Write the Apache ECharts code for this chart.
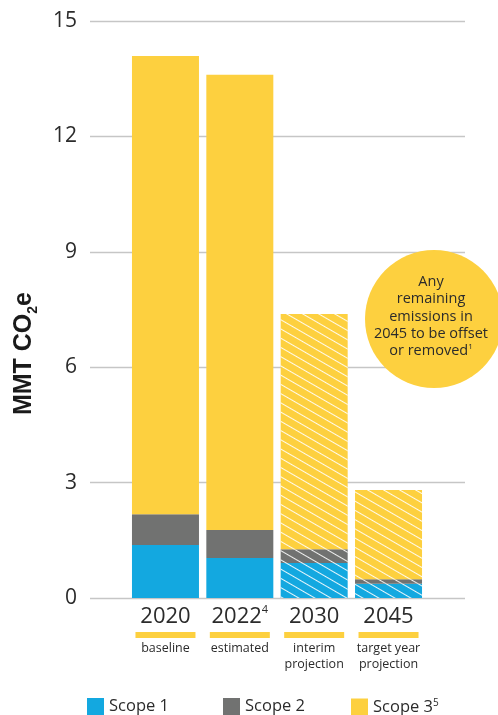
<!DOCTYPE html>
<html>
<head>
<meta charset="utf-8">
<style>
  html, body { margin: 0; padding: 0; background: #ffffff; }
  #chart { width: 498px; height: 715px; }
</style>
<script src="https://cdn.jsdelivr.net/npm/echarts@6/dist/echarts.min.js"></script>
</head>
<body>
<div id="chart"></div>
<script>
// Emissions by scope, million metric tons CO2e
const categories = ['2020', '2022', '2030', '2045'];
const yearNotes = ['', '4', '', ''];
const subLabels = [['baseline'], ['estimated'], ['interim', 'projection'], ['target year', 'projection']];
const projected = [false, false, true, true];

const scope1 = [1.38, 1.04, 0.91, 0.37];
const scope2 = [0.80, 0.73, 0.36, 0.12];
const scope3 = [11.91, 11.83, 6.11, 2.32];

const yMin = 0, yMax = 15, yStep = 3;

const seriesNames = ['Scope 1', 'Scope 2', 'Scope 3'];
const seriesNotes = ['', '', '5'];
const colors = ['#13A8E0', '#717271', '#FDD03F'];

const FONT = '"Open Sans", "Noto Sans", sans-serif';
const TEXT = '#2b2b2b';

const hatch = {
  symbol: 'rect',
  symbolSize: 1,
  dashArrayX: [1, 0],
  dashArrayY: [0.9, 6.6],
  rotation: Math.PI / 6,
  color: 'rgba(255,255,255,0.9)'
};

function barData(values) {
  return values.map((v, i) => projected[i]
    ? { value: v, itemStyle: { decal: hatch } }
    : v);
}

const chart = echarts.init(document.getElementById('chart'), null, { renderer: 'canvas' });

const option = {
  animation: false,
  backgroundColor: '#ffffff',
  textStyle: { fontFamily: FONT },
  color: colors,
  grid: [
    { left: 90, right: 33, top: 21, bottom: 117 },
    { left: 128.3, right: 72.3, top: 21, bottom: 117 }
  ],
  xAxis: [
    { type: 'category', gridIndex: 0, data: categories, show: false },
    {
      type: 'category', gridIndex: 1, data: categories,
      axisLine: { show: false }, axisTick: { show: false },
      axisLabel: {
        margin: 6,
        interval: 0,
        formatter: function (v, i) {
          const top = '{y|' + v + '}' + (yearNotes[i] ? '{sup|' + yearNotes[i] + '}' : '');
          const subs = subLabels[i].map(s => '{s|' + s + '}').join('\n');
          return top + '\n{bar|}\n' + subs;
        },
        rich: {
          y: { fontFamily: FONT, fontSize: 22, color: TEXT, lineHeight: 26 },
          sup: { fontFamily: FONT, fontSize: 11, color: TEXT, lineHeight: 22, verticalAlign: 'top' },
          bar: { backgroundColor: '#FDD03F', width: 60, height: 6, lineHeight: 10 },
          s: { fontFamily: FONT, fontSize: 12.5, color: TEXT, lineHeight: 16.5 }
        }
      }
    }
  ],
  yAxis: [
    {
      type: 'value', gridIndex: 0, min: yMin, max: yMax, interval: yStep,
      axisLine: { show: false }, axisTick: { show: false },
      axisLabel: { margin: 13, fontFamily: FONT, fontSize: 21, color: TEXT },
      splitLine: { lineStyle: { color: '#c6c6c6', width: 1.3 } }
    },
    {
      type: 'value', gridIndex: 1, min: yMin, max: yMax, interval: yStep,
      show: false, splitLine: { show: false }
    }
  ],
  legend: seriesNames.map((name, i) => ({
    data: [name],
    left: [87, 223, 351][i],
    top: 698,
    padding: 0,
    icon: 'rect',
    itemWidth: 17,
    itemHeight: 17,
    formatter: n => n + (seriesNotes[i] ? '{sup|' + seriesNotes[i] + '}' : ''),
    textStyle: {
      fontFamily: FONT, fontSize: 16.5, color: TEXT,
      rich: {
        sup: { fontFamily: FONT, fontSize: 10, color: TEXT, verticalAlign: 'top', lineHeight: 18 }
      }
    }
  })),
  series: [scope1, scope2, scope3].map((vals, k) => ({
    name: seriesNames[k],
    type: 'bar',
    stack: 'total',
    xAxisIndex: 1,
    yAxisIndex: 1,
    barWidth: 67,
    itemStyle: { color: colors[k] },
    emphasis: { disabled: true },
    data: barData(vals)
  })),
  graphic: [
    {
      type: 'text',
      left: 12, top: 292,
      rotation: Math.PI / 2,
      style: {
        text: 'MMT CO{sub|2}e',
        fontFamily: '"Liberation Sans", Arial, sans-serif',
        fontWeight: 'bold',
        fontSize: 25,
        fill: '#1a1a1a',
        rich: {
          sub: { fontFamily: '"Liberation Sans", Arial, sans-serif', fontWeight: 'bold', fontSize: 14, fill: '#1a1a1a', verticalAlign: 'bottom', lineHeight: 32 }
        }
      }
    },
    {
      type: 'circle',
      shape: { cx: 434, cy: 319, r: 69 },
      style: { fill: '#FDD03F' },
      z: 10
    },
    {
      type: 'text',
      x: 431, y: 316.5,
      z: 11,
      style: {
        text: '{t|Any}\n{t|remaining}\n{t|emissions in}\n{t|2045 to be offset}\n{t|or removed}{sup|1}',
        align: 'center',
        verticalAlign: 'middle',
        rich: {
          t: { fontFamily: FONT, fontSize: 14.5, fill: TEXT, lineHeight: 17.3 },
          sup: { fontFamily: FONT, fontSize: 8, fill: TEXT, lineHeight: 14, verticalAlign: 'top' }
        }
      }
    }
  ]
};

chart.setOption(option);
</script>
</body>
</html>
